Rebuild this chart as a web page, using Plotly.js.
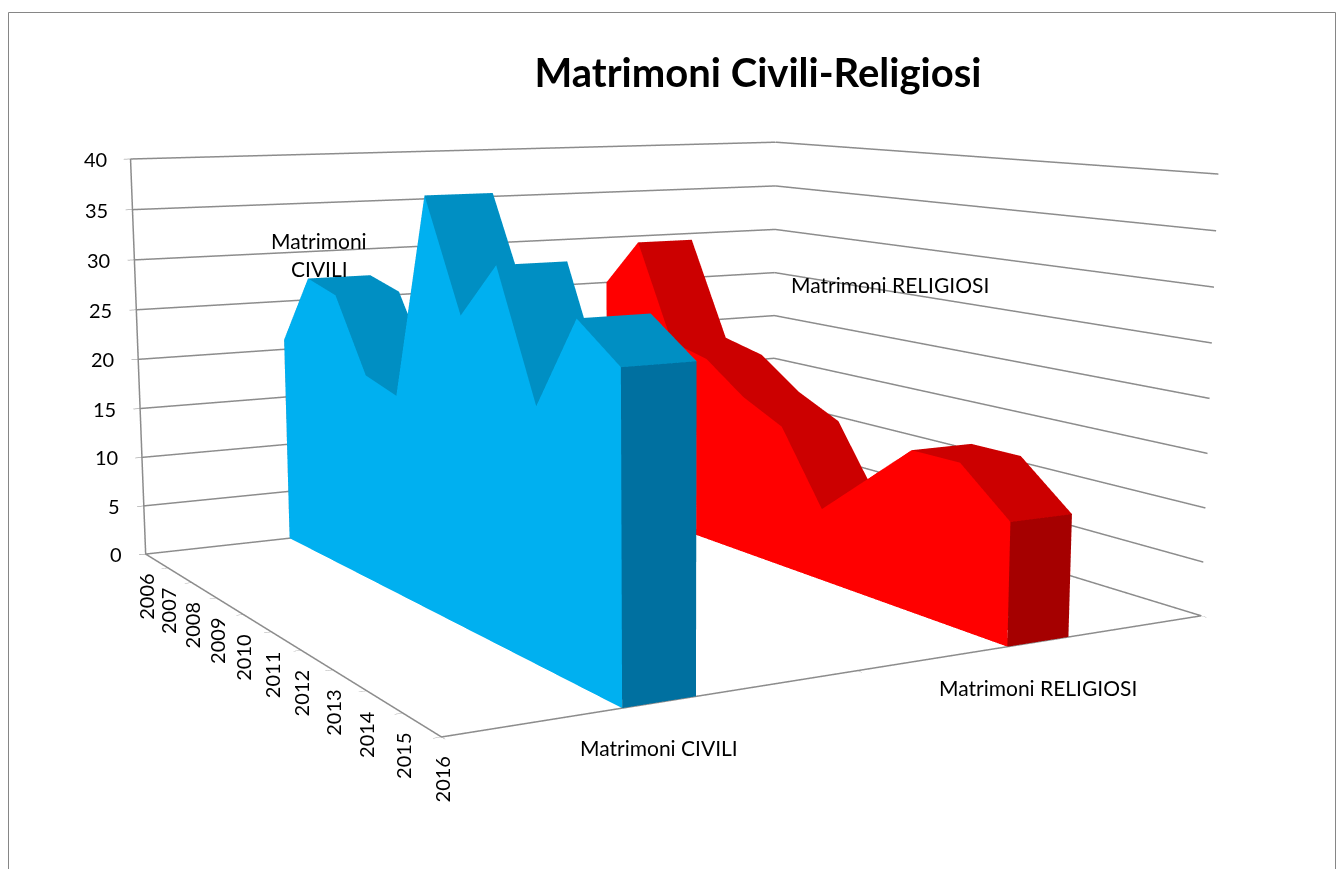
<!DOCTYPE html>
<html><head><meta charset="utf-8">
<script src="https://cdn.plot.ly/plotly-3.0.1.min.js"></script>
<style>html,body{margin:0;padding:0;background:#fff;overflow:hidden;width:1342px;height:869px}
#c{position:absolute}</style></head>
<body><div id="c"></div>
<script>
const years=[2006,2007,2008,2009,2010,2011,2012,2013,2014,2015,2016];
const civili=[21,28,27,20,19,38,28,33,22,30,27];
const religiosi=[25,30,20,19,16,14,7,11,15,15,11];
const zTicks=[0,5,10,15,20,25,30,35,40];
const seriesNames=['Matrimoni CIVILI','Matrimoni RELIGIOSI'];
const W=1342,H=869,WW=3004,HH=1945;
const cam={eye:{x:-1.6016,y:-2.8781,z:0.4767},center:{x:0.0298,y:-0.0268,z:-0.0801},up:{x:0,y:0,z:1},projection:{type:'perspective'}};
const aspect={x:1.1260,y:1.0883,z:0.5969};
const bands=[[0.41,0.588],[1.414,1.592]];
const L=(W-WW)/2,TP=(H-HH)/2;
const el=document.getElementById('c');el.style.left=L+'px';el.style.top=TP+'px';el.style.width=WW+'px';el.style.height=HH+'px';
const X=x=>(x-L)/WW,Y=y=>1-(y-TP)/HH;
function ext(vals,x0,x1,c1,c2,c3){
 const X=[],Y=[],Z=[],I=[],J=[],K=[],F=[];
 vals.forEach((v,n)=>{const y=2016-years[n];
  X.push(x0,x0,x1,x1);Y.push(y,y,y,y);Z.push(0,v,v,0);});
 function quad(a,b,c,d,col){I.push(a,a);J.push(b,c);K.push(c,d);F.push(col,col)}
 for(let n=0;n<vals.length-1;n++){const a=n*4,b=(n+1)*4;
  quad(a,b,b+1,a+1,c1);quad(a+1,b+1,b+2,a+2,c2);quad(a+3,a+2,b+2,b+3,c1);}
 const l=(vals.length-1)*4;quad(l,l+1,l+2,l+3,c3);quad(0,1,2,3,c3);
 return {type:'mesh3d',x:X,y:Y,z:Z,i:I,j:J,k:K,facecolor:F,flatshading:true,hoverinfo:'skip',
  lighting:{ambient:1,diffuse:0,specular:0,roughness:1,fresnel:0},showscale:false};
}
const gx=[],gy=[],gz=[];
zTicks.forEach(z=>{gx.push(0,2,2,null);gy.push(10,10,0,null);gz.push(z,z,z,null)});
gx.push(0,0,0,2);gy.push(10,10,0,0);gz.push(40,0,0,0);
const gridTrace={type:'scatter3d',mode:'lines',x:gx,y:gy,z:gz,line:{color:'#8c8c8c',width:3},hoverinfo:'skip',showlegend:false};
const data=[gridTrace,
 ext(civili,bands[0][0],bands[0][1],'#00B0F0','#008FC3','#0070A0'),
 ext(religiosi,bands[1][0],bands[1][1],'#FF0000','#CC0000','#A50000')];
const ax={showbackground:false,showgrid:false,zeroline:false,showspikes:false,showticklabels:false,showline:false,ticks:'outside',ticklen:6,tickcolor:'#868686',title:{text:''}};
const fnt={family:'Lato, sans-serif',size:21,color:'#000'};
const num={family:'Lato, sans-serif',size:20,color:'#000'};
const ann=[];
zTicks.forEach(v=>ann.push({x:0,y:10,z:v,text:String(v),showarrow:false,font:num,xanchor:'right',yanchor:'middle',xshift:-22}));
years.forEach(yr=>ann.push({x:0,y:2016-yr,z:0,text:String(yr),showarrow:false,font:num,xanchor:'center',yanchor:'top',yshift:-18,textangle:-90}));
ann.push({x:(bands[0][0]+bands[0][1])/2,y:0,z:0,text:seriesNames[0],showarrow:false,font:fnt,xanchor:'center',yanchor:'middle',yshift:-45});
ann.push({x:(bands[1][0]+bands[1][1])/2,y:0,z:0,text:seriesNames[1],showarrow:false,font:fnt,xanchor:'center',yanchor:'middle',yshift:-46});
const pa=(x,y,t,xa)=>({xref:'paper',yref:'paper',x:X(x),y:Y(y),text:t,showarrow:false,font:fnt,xanchor:xa,yanchor:'middle'});
const layout={width:WW,height:HH,margin:{l:0,r:0,t:0,b:0},paper_bgcolor:'#fff',showlegend:false,
 title:{text:'<b>Matrimoni Civili-Religiosi</b>',x:X(758),xanchor:'center',y:Y(73),yanchor:'middle',font:{family:'Lato, sans-serif',size:40,color:'#000'}},
 annotations:[pa(319,240,'Matrimoni','center'),pa(319,268,'CIVILI','center'),pa(789,284,seriesNames[1],'left')],
 shapes:[{type:'rect',xref:'paper',yref:'paper',x0:X(8.5),x1:X(1335.5),y0:Y(12.5),y1:Y(900),line:{color:'#868686',width:1},fillcolor:'rgba(0,0,0,0)'}],
 scene:{domain:{x:[0,1],y:[0,1]},bgcolor:'#fff',aspectmode:'manual',aspectratio:aspect,annotations:ann,camera:cam,
  xaxis:{...ax,range:[0,2],tickvals:[0,1,2]},yaxis:{...ax,range:[0,10],tickvals:[0,1,2,3,4,5,6,7,8,9,10]},
  zaxis:{...ax,range:[0,40],tickvals:zTicks}}};
Plotly.newPlot('c',data,layout,{displayModeBar:false});
</script></body></html>
